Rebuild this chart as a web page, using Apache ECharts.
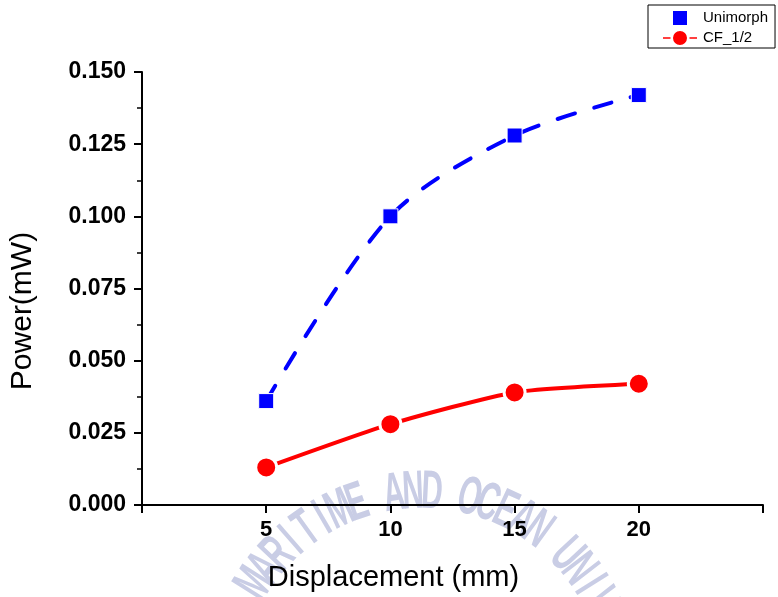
<!DOCTYPE html>
<html>
<head>
<meta charset="utf-8">
<script src="https://cdn.jsdelivr.net/npm/echarts@6/dist/echarts.min.js"></script>
<style>
html,body{margin:0;padding:0;background:#fff;}
#chart{width:778px;height:597px;}
</style>
</head>
<body>
<div id="chart"></div>
<script>
// ---- data ----
const displacement = [5, 10, 15, 20];
const unimorph = [0.036, 0.100, 0.128, 0.142];
const cfHalf = [0.013, 0.028, 0.039, 0.042];
const seriesNames = ['Unimorph', 'CF_1/2'];
const xTicks = [0, 5, 10, 15, 20, 25];
const yTicks = [0, 0.025, 0.05, 0.075, 0.1, 0.125, 0.15];

// ---- watermark (decoration) ----
const wmText = 'MARITIME AND OCEAN UNIVERSITY';
const wmEls = [];
for (let i = 0; i < wmText.length; i++) {
  const ch = wmText[i];
  if (ch === ' ') continue;
  const th = (-57.6 + i * 5.5) * Math.PI / 180;
  wmEls.push({
    type: 'text',
    x: 422 + 170 * Math.sin(th),
    y: 690 - 170 * Math.cos(th),
    rotation: -th,
    scaleX: 0.55,
    silent: true,
    style: {
      text: ch,
      font: 'bold 54px "Liberation Sans", Arial, sans-serif',
      fill: '#c9cde5',
      textAlign: 'center',
      textVerticalAlign: 'bottom',
      align: 'center',
      verticalAlign: 'bottom'
    }
  });
}

const chart = echarts.init(document.getElementById('chart'), null, {renderer: 'canvas'});
const font = '"Liberation Sans", Arial, sans-serif';

chart.setOption({
  backgroundColor: '#ffffff',
  animation: false,
  graphic: [{type: 'group', z: -10, zlevel: 0, children: wmEls}],
  grid: {left: 142, right: 15, top: 72, bottom: 92, containLabel: false},
  legend: {
    orient: 'vertical',
    left: 648,
    top: 5,
    padding: [4, 7, 1, 13],
    borderColor: '#000',
    borderWidth: 1,
    itemWidth: 36,
    itemHeight: 16,
    itemGap: 2,
    textStyle: {fontFamily: font, fontSize: 15, color: '#000'},
    data: [
      {name: seriesNames[0], icon: 'path://M0,0h10v10h-10z'},
      {name: seriesNames[1], icon: 'path://M0,6.2h9.5v3.6h-9.5z M26.5,6.2h9.5v3.6h-9.5z M10,8a8,8 0 1,0 16,0a8,8 0 1,0 -16,0z'}
    ]
  },
  xAxis: {
    type: 'value',
    min: xTicks[0],
    max: xTicks[xTicks.length - 1],
    interval: 5,
    name: 'Displacement (mm)',
    nameLocation: 'middle',
    nameGap: 58,
    nameTextStyle: {fontFamily: font, fontSize: 29, color: '#000', padding: [0, 118, 0, 0]},
    axisLine: {show: true, onZero: false, lineStyle: {color: '#000', width: 2}},
    axisTick: {show: true, inside: false, length: 8, lineStyle: {color: '#000', width: 2}},
    minorTick: {show: false},
    splitLine: {show: false},
    axisLabel: {
      margin: 14,
      fontFamily: font, fontSize: 22, fontWeight: 'bold', color: '#000',
      formatter: v => (v === xTicks[0] || v === xTicks[xTicks.length - 1]) ? '' : String(v)
    }
  },
  yAxis: {
    type: 'value',
    min: yTicks[0],
    max: yTicks[yTicks.length - 1],
    interval: 0.025,
    name: 'Power(mW)',
    nameLocation: 'middle',
    nameGap: 104,
    nameTextStyle: {fontFamily: font, fontSize: 30, color: '#000', padding: [0, 45, 0, 0]},
    axisLine: {show: true, onZero: false, lineStyle: {color: '#000', width: 2}},
    axisTick: {show: true, inside: false, length: 8, lineStyle: {color: '#000', width: 2}},
    minorTick: {show: true, splitNumber: 2, length: 5, lineStyle: {color: '#000', width: 1.5}},
    splitLine: {show: false},
    axisLabel: {
      margin: 16,
      fontFamily: font, fontSize: 23, fontWeight: 'bold', color: '#000',
      formatter: v => v.toFixed(3)
    }
  },
  series: [
    {
      name: seriesNames[0],
      type: 'line',
      data: displacement.map((x, i) => [x, unimorph[i]]),
      smooth: 0.3,
      symbol: 'rect',
      symbolSize: 15,
      itemStyle: {color: '#0000ff', borderColor: '#ffffff', borderWidth: 1},
      lineStyle: {color: '#0000ff', width: 4, type: [18, 20], cap: 'round'},
      z: 3
    },
    {
      name: seriesNames[1],
      type: 'line',
      data: displacement.map((x, i) => [x, cfHalf[i]]),
      smooth: 0.2,
      symbol: 'circle',
      symbolSize: 21,
      itemStyle: {color: '#ff0000', borderColor: '#ffffff', borderWidth: 3},
      lineStyle: {color: '#ff0000', width: 4, cap: 'round'},
      z: 3
    }
  ]
});
</script>
</body>
</html>
